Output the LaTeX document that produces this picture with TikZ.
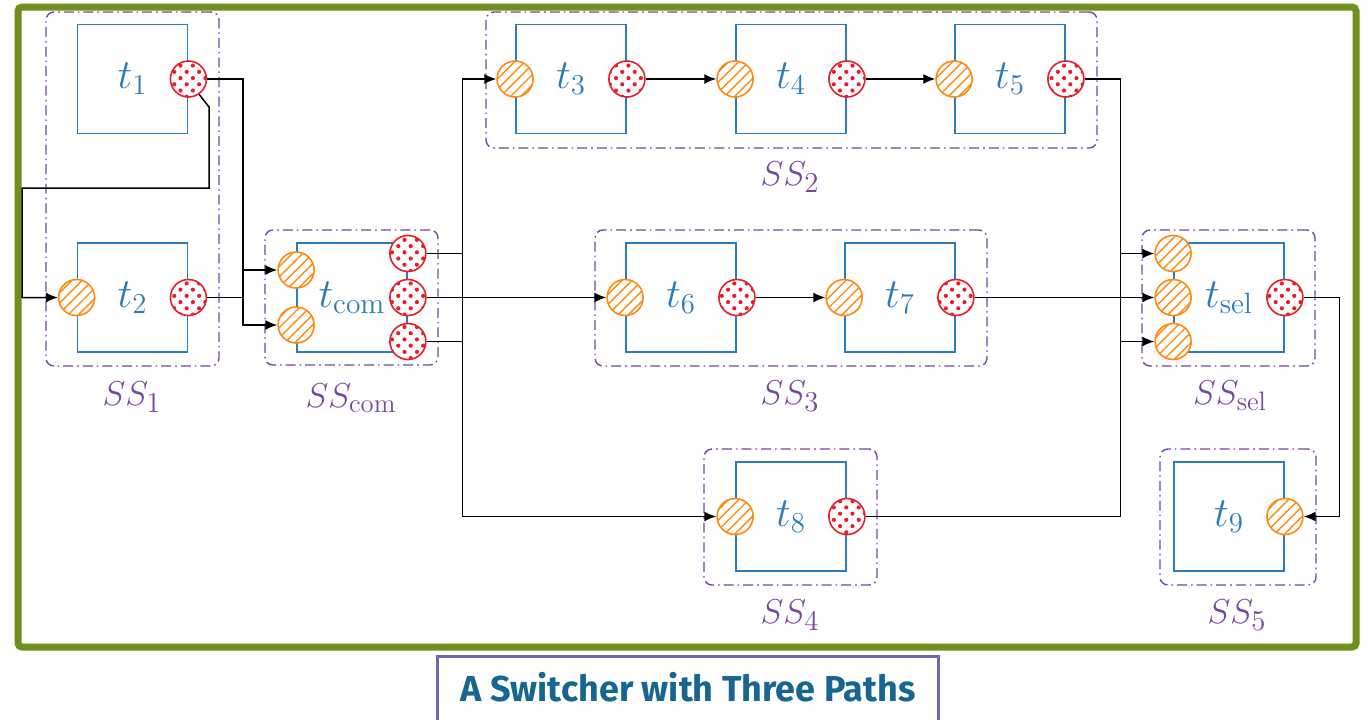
\documentclass[tikz,border=0pt]{standalone}
\usepackage{fontspec}
\setsansfont{Fira Sans}
\usetikzlibrary{patterns,patterns.meta,arrows.meta,shadows}
\definecolor{tblue}{HTML}{2A7DB8}
\definecolor{sspurple}{HTML}{7448A0}
\definecolor{porange}{HTML}{FF8A10}
\definecolor{pred}{HTML}{E6202A}
\definecolor{fgreen}{HTML}{6F901C}
\definecolor{titleblue}{HTML}{17668F}
\definecolor{titleframe}{HTML}{7466B0}
\begin{document}
\begin{tikzpicture}[x=0.5pt,y=-0.5pt,
  task/.style={draw=tblue, line width=0.9pt, minimum width=55pt, minimum height=54.5pt, inner sep=0pt, text=tblue, font=\fontsize{21}{24}\selectfont},
  inport/.style={circle, draw=porange, line width=0.8pt, minimum size=18pt, inner sep=0pt, preaction={fill=white}, pattern={Lines[angle=45,distance=3.6pt,line width=0.7pt]}, pattern color=porange},
  outport/.style={circle, draw=pred, line width=0.8pt, minimum size=18pt, inner sep=0pt, preaction={fill=white}, pattern={Dots[angle=45,distance=4.4pt,radius=1.05pt]}, pattern color=pred},
  ssbox/.style={draw=sspurple, line width=0.7pt, rounded corners=4pt, dash pattern=on 5pt off 2pt on 0.8pt off 2pt, inner sep=0pt},
  sslabel/.style={text=sspurple, font=\fontsize{19}{22}\selectfont, inner sep=0pt},
  conn/.style={draw=black, line width=0.75pt, -{Latex[length=6pt,width=5pt]}}
]
\useasboundingbox (0,0) rectangle (1368,719);
\fill[white] (0,0) rectangle (1368,719);
% green frame
\draw[fgreen, line width=3.5pt, rounded corners=2pt, fill=white,
  drop shadow={opacity=0.35, shadow xshift=1pt, shadow yshift=-1.5pt}] (18,7) rectangle (1356,647);
% title
\draw[titleframe, line width=1.5pt, fill=white] (437,656) rectangle (938,730);
\node[text=titleblue, font=\sffamily\bfseries\fontsize{18}{21}\selectfont] (title) at (688,687) {A Switcher with Three Paths};

% SS boxes
\node[ssbox, minimum width=86.5pt, minimum height=177pt] (ss1) at (132.5,189) {};
\node[ssbox, minimum width=86.5pt, minimum height=67.5pt] (sscom) at (351.5,297.5) {};
\node[ssbox, minimum width=305.5pt, minimum height=68pt] (ss2) at (791.5,80) {};
\node[ssbox, minimum width=196pt, minimum height=68pt] (ss3) at (791,298) {};
\node[ssbox, minimum width=86.5pt, minimum height=68pt] (ss4) at (790.5,517) {};
\node[ssbox, minimum width=86.5pt, minimum height=68pt] (sssel) at (1228.5,298) {};
\node[ssbox, minimum width=78pt, minimum height=68pt] (ss5) at (1238,517) {};

\node[sslabel] (l1) at (132,397) {$SS_1$};
\node[sslabel] (lcom) at (351,398) {$SS_{\mathrm{com}}$};
\node[sslabel] (l2) at (790,177) {$SS_2$};
\node[sslabel] (l3) at (790,396) {$SS_3$};
\node[sslabel] (l4) at (790,615) {$SS_4$};
\node[sslabel] (lsel) at (1230,396) {$SS_{\mathrm{sel}}$};
\node[sslabel] (l5) at (1237,615) {$SS_5$};

% tasks
\node[task] (t1) at (132.5,79) {$t_1$};
\node[task] (t2) at (132.5,297.5) {$t_2$};
\node[task] (tc) at (352,297.5) {$t_{\mathrm{com}}$};
\node[task] (t3) at (571,79) {$t_3$};
\node[task] (t4) at (791,79) {$t_4$};
\node[task] (t5) at (1010,79) {$t_5$};
\node[task] (t6) at (681,297.5) {$t_6$};
\node[task] (t7) at (900,297.5) {$t_7$};
\node[task] (t8) at (791,516.5) {$t_8$};
\node[task] (ts) at (1229,297.5) {$t_{\mathrm{sel}}$};
\node[task] (t9) at (1229,516.5) {$t_9$};

% ports
\node[outport] (t1o) at (t1.east) {};
\node[inport] (t2i) at (t2.west) {};
\node[outport] (t2o) at (t2.east) {};
\node[inport] (tci1) at ([yshift=-13.75pt]tc.west) {};
\node[inport] (tci2) at ([yshift=13.75pt]tc.west) {};
\node[outport] (tco1) at ([yshift=-22pt]tc.east) {};
\node[outport] (tco2) at (tc.east) {};
\node[outport] (tco3) at ([yshift=22pt]tc.east) {};
\node[inport] (t3i) at (t3.west) {};
\node[outport] (t3o) at (t3.east) {};
\node[inport] (t4i) at (t4.west) {};
\node[outport] (t4o) at (t4.east) {};
\node[inport] (t5i) at (t5.west) {};
\node[outport] (t5o) at (t5.east) {};
\node[inport] (t6i) at (t6.west) {};
\node[outport] (t6o) at (t6.east) {};
\node[inport] (t7i) at (t7.west) {};
\node[outport] (t7o) at (t7.east) {};
\node[inport] (t8i) at (t8.west) {};
\node[outport] (t8o) at (t8.east) {};
\node[inport] (tsi1) at ([yshift=-22pt]ts.west) {};
\node[inport] (tsi2) at (ts.west) {};
\node[inport] (tsi3) at ([yshift=22pt]ts.west) {};
\node[outport] (tso) at (ts.east) {};
\node[inport] (t9i) at (t9.east) {};

% connectors
\coordinate (b1) at (209,107);
\coordinate (b2) at (209,188);
\coordinate (b3) at (22,188);
\draw[conn] (t1o.east) -- ++(36,0) |- (tci1.west);
\draw[conn] (t1o.-55) -- (b1) -- (b2) -- (b3) |- (t2i.west);
\draw[conn] (t2o.east) -- ++(36,0) |- (tci2.west);
\draw[conn] (tco1.east) -- ++(36,0) |- (t3i.west);
\draw[conn] (tco2.east) -- (t6i.west);
\draw[conn] (tco3.east) -- ++(36,0) |- (t8i.west);
\draw[conn] (t3o.east) -- (t4i.west);
\draw[conn] (t4o.east) -- (t5i.west);
\draw[conn] (t5o.east) -- ++(36,0) |- (tsi1.west);
\draw[conn] (t6o.east) -- (t7i.west);
\draw[conn] (t7o.east) -- (tsi2.west);
\draw[conn] (t8o.east) -- ++(255,0) |- (tsi3.west);
\draw[conn] (tso.east) -- ++(36,0) |- (t9i.east);
\end{tikzpicture}
\end{document}
